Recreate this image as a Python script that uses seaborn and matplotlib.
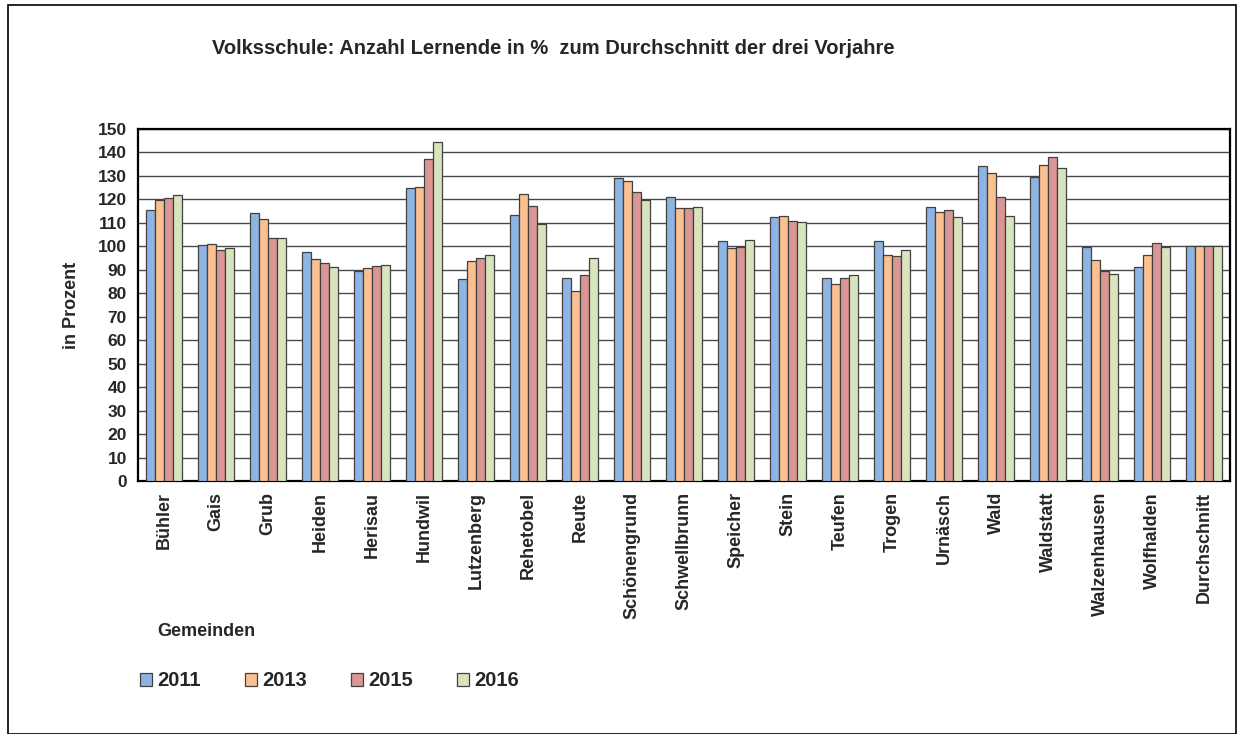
import pandas as pd
import numpy as np
import matplotlib
matplotlib.use('Agg')
import matplotlib.pyplot as plt
import seaborn as sns
from matplotlib.patches import Rectangle

gemeinden = ['Bühler', 'Gais', 'Grub', 'Heiden', 'Herisau', 'Hundwil', 'Lutzenberg',
             'Rehetobel', 'Reute', 'Schönengrund', 'Schwellbrunn', 'Speicher', 'Stein',
             'Teufen', 'Trogen', 'Urnäsch', 'Wald', 'Waldstatt', 'Walzenhausen',
             'Wolfhalden', 'Durchschnitt']
jahre = ['2011', '2013', '2015', '2016']

v2011 = [115.3, 100.6, 114.3, 97.4, 89.3, 124.7, 85.9, 113.4, 86.3, 129.1, 120.9,
         102.3, 112.3, 86.3, 102.3, 116.9, 134.3, 129.6, 99.8, 91.4, 100]
v2013 = [119.9, 101.0, 111.7, 94.4, 90.7, 125.3, 93.6, 122.1, 81.1, 127.9, 116.4,
         99.4, 113.0, 84.1, 96.1, 114.7, 131.3, 134.7, 94.0, 96.1, 100]
v2015 = [120.4, 98.4, 103.6, 93.1, 91.6, 137.3, 95.1, 117.0, 87.6, 123.1, 116.4,
         99.7, 110.9, 86.3, 95.7, 115.3, 121.1, 138.1, 89.7, 101.3, 100]
v2016 = [121.7, 99.4, 103.6, 91.0, 91.9, 144.3, 96.3, 109.6, 95.0, 119.9, 116.9,
         102.7, 110.4, 87.9, 98.3, 112.6, 113.0, 133.4, 88.0, 99.8, 100]

farben = ['#8EB4E3', '#FAC090', '#D99694', '#D7E4BD']

df = pd.DataFrame({'Gemeinde': gemeinden * 4,
                   'Jahr': [j for j in jahre for _ in gemeinden],
                   'Wert': v2011 + v2013 + v2015 + v2016})

sns.set_style('white')
plt.rcParams['font.family'] = ['Liberation Sans', 'DejaVu Sans']
plt.rcParams['font.weight'] = 'bold'

fig = plt.figure(figsize=(12.46, 7.34), dpi=100)
ax = fig.add_axes([138/1246, 1-481/734, (1230-138)/1246, (481-129)/734])

sns.barplot(data=df, x='Gemeinde', y='Wert', hue='Jahr', palette=farben, saturation=1,
            width=0.7, gap=0, edgecolor='#404040', linewidth=0.9, ax=ax, zorder=3)

ax.set_ylim(0, 150)
ax.set_xlim(-0.5, len(gemeinden) - 0.5)
ax.set_yticks(range(0, 151, 10))
ax.yaxis.grid(True, color='#4a4a4a', linewidth=1.0, zorder=0)
ax.set_axisbelow(True)
for s in ax.spines.values():
    s.set_visible(True)
    s.set_color('black')
    s.set_linewidth(1.6)

ax.set_xticks(range(len(gemeinden)))
ax.set_xticklabels(gemeinden, rotation=90, fontsize=13, fontweight='bold')
ax.set_xticks(np.arange(-0.5, len(gemeinden), 1), minor=True)
ax.tick_params(axis='x', which='major', length=0, pad=8)
ax.tick_params(axis='x', which='minor', length=5, width=1, color='black', direction='out')
ax.tick_params(axis='y', length=5, width=1, color='black', direction='out', labelsize=12.5, pad=3)
for t in ax.get_yticklabels():
    t.set_fontweight('bold')
ax.set_xlabel('')
ax.set_ylabel('')

fig.text(553/1246, 1-48/734, 'Volksschule: Anzahl Lernende in %  zum Durchschnitt der drei Vorjahre',
         ha='center', va='center', fontsize=14.5, fontweight='bold')
fig.text(72/1246, 1-305/734, 'in Prozent', rotation=90, ha='center', va='center',
         fontsize=13, fontweight='bold')
fig.text(157/1246, 1-631/734, 'Gemeinden', ha='left', va='center',
         fontsize=13, fontweight='bold')

ax.get_legend().remove()
handles = [Rectangle((0, 0), 1, 1, facecolor=c, edgecolor='#404040', linewidth=0.9) for c in farben]
fig.legend(handles, jahre, loc='center left', bbox_to_anchor=(122/1246, 1-681/734),
           ncol=4, frameon=False, handlelength=0.6, handleheight=0.6, handletextpad=0.25,
           columnspacing=2.2, prop={'size': 14.5, 'weight': 'bold'})

fig.patches.append(Rectangle((8/1246, 0), (1236-8)/1246, 1-5/734, transform=fig.transFigure,
                             fill=False, edgecolor='black', linewidth=1.2))

plt.savefig('out.png', dpi=100)
